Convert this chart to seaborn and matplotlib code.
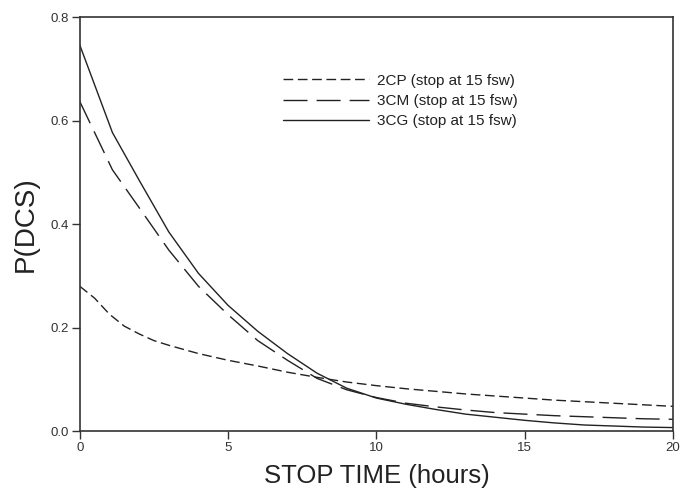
import numpy as np
import pandas as pd
import matplotlib
matplotlib.use("Agg")
import matplotlib.pyplot as plt
import seaborn as sns

# Data
t_2cp = [0, 0.5, 1, 1.5, 2, 2.5, 3, 4, 5, 6, 7, 8, 9, 10, 11, 12, 13, 14, 15, 16, 17, 18, 19, 20]
p_2cp = [0.280, 0.257, 0.226, 0.203, 0.188, 0.175, 0.166, 0.150, 0.137, 0.126, 0.114, 0.104,
         0.095, 0.088, 0.082, 0.077, 0.072, 0.068, 0.064, 0.060, 0.057, 0.054, 0.051, 0.048]

t_3cm = [0, 1.1, 2, 3, 4, 5, 6, 7, 8, 9, 10, 11, 12, 13, 14, 15, 16, 17, 18, 19, 20]
p_3cm = [0.637, 0.505, 0.432, 0.350, 0.280, 0.225, 0.175, 0.137, 0.102, 0.080, 0.065,
         0.054, 0.047, 0.041, 0.036, 0.033, 0.030, 0.028, 0.026, 0.024, 0.023]

t_3cg = [0, 1.1, 2, 3, 4, 5, 6, 7, 8, 9, 10, 11, 12, 13, 14, 15, 16, 17, 18, 19, 20]
p_3cg = [0.746, 0.577, 0.485, 0.385, 0.305, 0.243, 0.193, 0.150, 0.112, 0.083, 0.064,
         0.052, 0.042, 0.033, 0.027, 0.021, 0.016, 0.012, 0.010, 0.008, 0.007]

labels = ["2CP (stop at 15 fsw)", "3CM (stop at 15 fsw)", "3CG (stop at 15 fsw)"]

df = pd.concat([
    pd.DataFrame({"t": t_2cp, "p": p_2cp, "model": labels[0]}),
    pd.DataFrame({"t": t_3cm, "p": p_3cm, "model": labels[1]}),
    pd.DataFrame({"t": t_3cg, "p": p_3cg, "model": labels[2]}),
])

sns.set_style("ticks")
plt.rcParams['font.family'] = ['Liberation Sans', 'DejaVu Sans']

fig = plt.figure(figsize=(6.82, 4.9), dpi=100)
ax = fig.add_axes([0.117, 0.120, 0.870, 0.845])

dashes = {labels[0]: (7, 3.3), labels[1]: (17.3, 6.5), labels[2]: ""}
sns.lineplot(data=df, x="t", y="p", hue="model", style="model",
             palette={l: "#222222" for l in labels}, dashes=dashes,
             linewidth=1.0, ax=ax, legend=True, estimator=None, sort=False)

ax.set_xlim(0, 20)
ax.set_ylim(0, 0.8)
ax.set_xticks([0, 5, 10, 15, 20])
ax.set_yticks([0, 0.2, 0.4, 0.6, 0.8])
ax.set_yticklabels(["0.0", "0.2", "0.4", "0.6", "0.8"])
ax.tick_params(direction="out", length=5.5, width=1, labelsize=9.5, pad=2.5,
               colors="#333333", labelcolor="#333333")
for s in ax.spines.values():
    s.set_linewidth(1.2)
    s.set_color("#333333")

ax.set_xlabel("STOP TIME (hours)", fontsize=18.5, color="#222222", labelpad=7)
ax.set_ylabel("P(DCS)", fontsize=20, color="#222222", labelpad=8)

leg = ax.legend(loc="upper left", bbox_to_anchor=(0.32, 0.897), frameon=False,
                fontsize=11, handlelength=5.6, handletextpad=0.52, labelspacing=0.42)
for txt in leg.get_texts():
    txt.set_color("#222222")

fig.savefig("out.png", dpi=100)
